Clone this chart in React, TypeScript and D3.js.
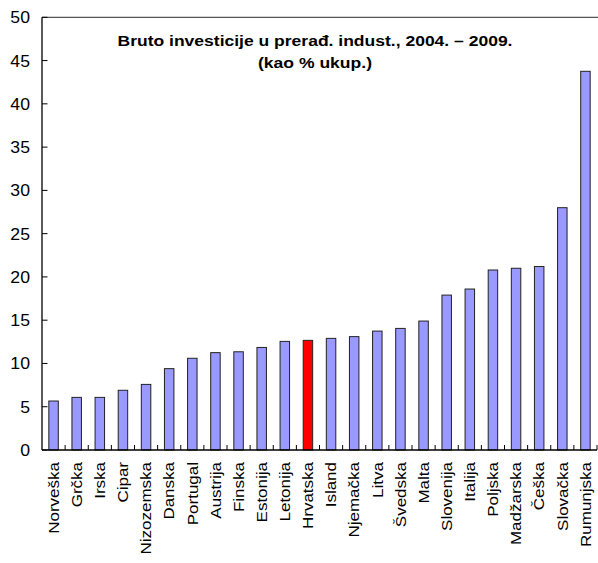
import React from "react";
import * as d3 from "d3";

const categories = ["Norveška","Grčka","Irska","Cipar","Nizozemska","Danska","Portugal","Austrija","Finska","Estonija","Letonija","Hrvatska","Island","Njemačka","Litva","Švedska","Malta","Slovenija","Italija","Poljska","Madžarska","Češka","Slovačka","Rumunjska"];
const values = [5.66,6.08,6.08,6.9,7.58,9.4,10.6,11.25,11.35,11.85,12.55,12.67,12.9,13.1,13.74,14.05,14.9,17.9,18.6,20.8,21.0,21.2,28.0,43.76];
const yTicks = [0,5,10,15,20,25,30,35,40,45,50];
const highlight = "Hrvatska";
const titleLines = ["Bruto investicije u prerađ. indust., 2004. – 2009.", "(kao % ukup.)"];

export default function App() {
  const W = 598, H = 563;
  const left = 42, right = 597, top = 17.3, bottom = 450;
  const x = d3.scaleBand<string>().domain(categories).range([left, right]).paddingInner(0.59).paddingOuter(0.295);
  const y = d3.scaleLinear().domain([0, 50]).range([bottom, top]);
  const step = x.step();
  const font = "Arial, 'Liberation Sans', sans-serif";
  const titleLens = [395, 114];
  const titleY = [46, 68];
  return (
    <svg width={W} height={H} style={{ position: "absolute", left: 0, top: 0, background: "#fff" }}>
      <line x1={left} x2={W} y1={top} y2={top} stroke="#555" strokeWidth={1.3} />
      {categories.map((c, i) => (
        <rect key={c} x={x(c)!} y={y(values[i])} width={x.bandwidth()} height={bottom - y(values[i])}
          fill={c === highlight ? "#FF0000" : "#9999FF"} stroke="#222" strokeWidth={1} />
      ))}
      <line x1={left} x2={left} y1={top} y2={bottom} stroke="#000" strokeWidth={1.3} />
      <line x1={left} x2={right} y1={bottom} y2={bottom} stroke="#000" strokeWidth={1.3} />
      {yTicks.map(t => (
        <g key={t}>
          <line x1={left} x2={left + 5.5} y1={y(t)} y2={y(t)} stroke="#000" strokeWidth={1} />
          <text transform={`translate(30,${y(t)}) scale(1.07,1)`} dy="0.36em" textAnchor="end" fontFamily={font} fontSize={16.5}>{t}</text>
        </g>
      ))}
      {categories.map((c, i) => (
        <line key={"t" + c} x1={left + step * (i + 1)} x2={left + step * (i + 1)} y1={bottom} y2={bottom - 5} stroke="#000" strokeWidth={1} />
      ))}
      {categories.map(c => {
        const cx = x(c)! + x.bandwidth() / 2;
        return (
          <text key={"l" + c} transform={`translate(${cx},${bottom + 12}) rotate(-90) scale(1,0.86)`} textAnchor="end" dy="0.36em"
            fontFamily={font} fontSize={17}>{c}</text>
        );
      })}
      {titleLines.map((l, i) => (
        <text key={l} x={315} y={titleY[i]} textAnchor="middle" fontFamily={font} fontSize={14.5} fontWeight="bold"
          textLength={titleLens[i]} lengthAdjust="spacingAndGlyphs">{l}</text>
      ))}
    </svg>
  );
}
